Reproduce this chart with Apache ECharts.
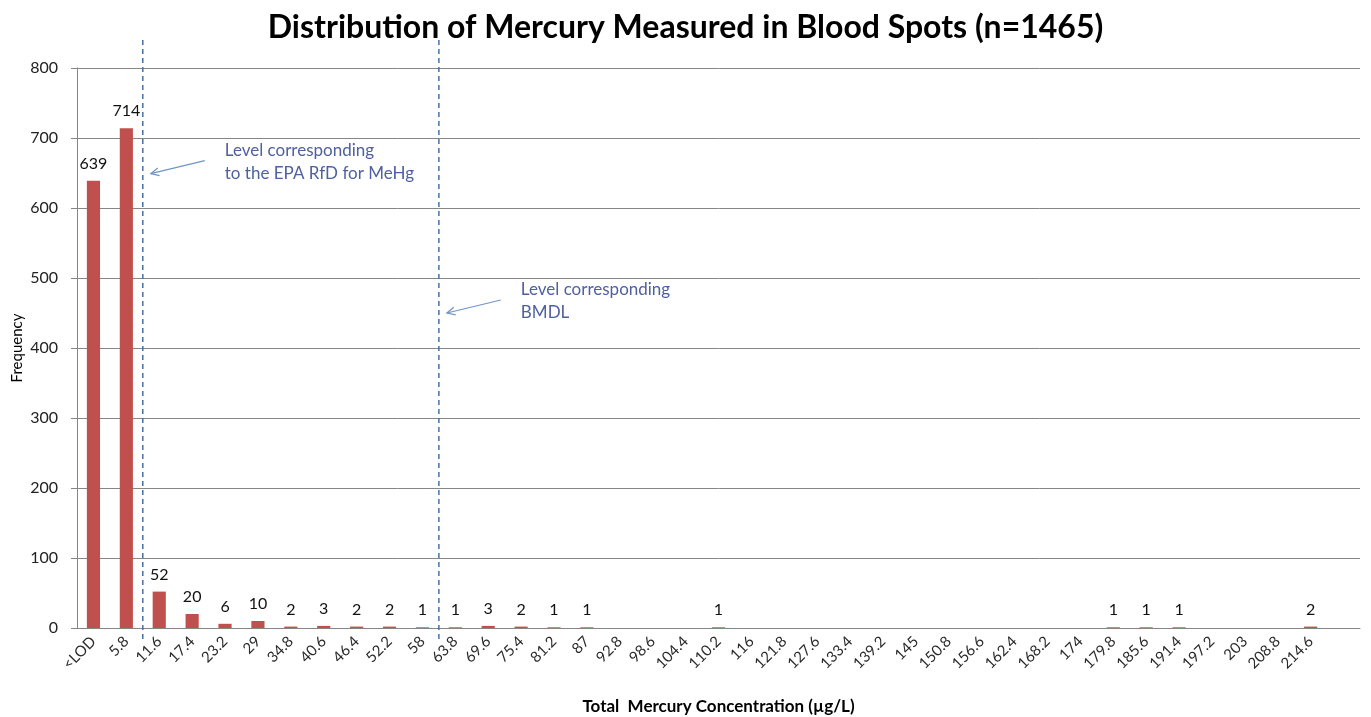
<!DOCTYPE html>
<html>
<head>
<meta charset="utf-8">
<script src="https://cdn.jsdelivr.net/npm/echarts@6/dist/echarts.min.js"></script>
<style>
  html, body { margin:0; padding:0; background:#fff; }
  #chart { width:1371px; height:717px; }
</style>
</head>
<body>
<div id="chart"></div>
<script>
// categories (µg/L bins), last bin has no label
const categories = ['<LOD','5.8','11.6','17.4','23.2','29','34.8','40.6','46.4','52.2','58','63.8','69.6','75.4','81.2','87','92.8','98.6','104.4','110.2','116','121.8','127.6','133.4','139.2','145','150.8','156.6','162.4','168.2','174','179.8','185.6','191.4','197.2','203','208.8','214.6',''];
const frequency = [639,714,52,20,6,10,2,3,2,2,1,1,3,2,1,1,0,0,0,1,0,0,0,0,0,0,0,0,0,0,0,1,1,1,0,0,0,2,0];

// reference lines sit between two bins: [left bin, right bin, arrow value, text]
const refLines = [
  [1, 2, 649, 'Level corresponding\nto the EPA RfD for MeHg'],
  [10, 11, 450, 'Level corresponding\nBMDL']
];

const FONT = 'Lato, "Liberation Sans", sans-serif';
const chart = echarts.init(document.getElementById('chart'));

chart.setOption({
  animation: false,
  title: {
    text: 'Distribution of Mercury Measured in Blood Spots (n=1465)',
    left: 'center', top: 7,
    textStyle: {fontFamily: FONT, fontSize: 32, fontWeight: 'bold', color: '#000'}
  },
  grid: {left: 77, right: 11, top: 68, bottom: 89, outerBoundsMode: 'none', containLabel: false},
  xAxis: {
    type: 'category',
    data: categories,
    name: 'Total  Mercury Concentration (µg/L)',
    nameLocation: 'middle', nameGap: 70,
    nameTextStyle: {fontFamily: FONT, fontSize: 17, fontWeight: 'bold', color: '#000'},
    axisLine: {lineStyle: {color: '#868686'}},
    axisTick: {length: 6, interval: 0, lineStyle: {color: '#868686'}},
    axisLabel: {interval: 0, rotate: 45, fontFamily: FONT, fontSize: 15, color: '#2a2a2a', margin: 11}
  },
  yAxis: {
    type: 'value', min: 0, max: 800, interval: 100,
    name: 'Frequency', nameLocation: 'middle', nameGap: 52, nameRotate: 90,
    nameMoveOverlap: false,
    nameTextStyle: {fontFamily: FONT, fontSize: 15, color: '#000'},
    axisLine: {show: true, lineStyle: {color: '#868686'}},
    axisTick: {show: true, length: 6, lineStyle: {color: '#868686'}},
    axisLabel: {fontFamily: FONT, fontSize: 16, color: '#222', margin: 19},
    splitLine: {lineStyle: {color: '#868686'}}
  },
  series: [
    {
      type: 'bar',
      data: frequency,
      barWidth: '40%',
      itemStyle: {color: '#C0504D'},
      label: {
        show: true, position: 'top', distance: 9,
        fontFamily: FONT, fontSize: 16, color: '#111',
        formatter: p => p.value > 0 ? p.value : ''
      }
    },
    {
      type: 'custom',
      clip: false,
      silent: true,
      data: refLines.map(r => [r[0], r[1], r[2]]),
      renderItem: (params, api) => {
        const r = refLines[params.dataIndex];
        const a = api.coord([api.value(0), 0]);
        const b = api.coord([api.value(1), 0]);
        const x = (a[0] + b[0]) / 2;
        const top = api.coord([0, 800])[1] - 28;
        const tipY = api.coord([0, api.value(2)])[1];
        const tipX = x + 8;
        const tailX = tipX + 54, tailY = tipY - 13;
        const ang = Math.atan2(tailY - tipY, tailX - tipX);
        const hl = 9, hw = 0.45;
        return {
          type: 'group',
          children: [
            {type: 'line', shape: {x1: x, y1: top, x2: x, y2: a[1] + 15},
             style: {stroke: '#4A6FA5', lineWidth: 1.5, lineDash: [5, 4]}},
            {type: 'line', shape: {x1: tipX, y1: tipY, x2: tailX, y2: tailY},
             style: {stroke: '#6F95C8', lineWidth: 1.2}},
            {type: 'polyline', shape: {points: [
               [tipX + hl * Math.cos(ang - hw), tipY + hl * Math.sin(ang - hw)],
               [tipX, tipY],
               [tipX + hl * Math.cos(ang + hw), tipY + hl * Math.sin(ang + hw)]]},
             style: {stroke: '#6F95C8', lineWidth: 1.2, fill: null}},
            {type: 'text', x: tipX + 74, y: tipY - 35,
             style: {text: r[3], fontFamily: FONT, fontSize: 17, lineHeight: 23, fill: '#4F5F9F'}}
          ]
        };
      }
    }
  ]
});
</script>
</body>
</html>
